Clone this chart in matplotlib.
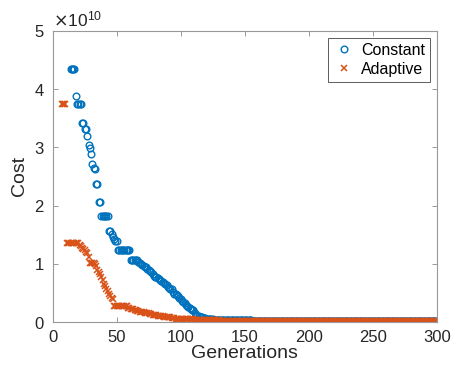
import numpy as np
import matplotlib
matplotlib.use('Agg')
import matplotlib.pyplot as plt
from matplotlib.ticker import ScalarFormatter

plt.rcParams['font.family'] = ['Liberation Sans', 'DejaVu Sans']

# cost per generation in units of 1e10, stored as (level, run length)
# earlier generations are above the y-limit and not shown
const_start = 14
const_levels = [4.35, 3.88, 3.75, 3.42, 3.32, 3.19, 3.04, 2.98, 2.88, 2.72, 2.64, 2.62,
                2.37, 2.06, 1.82, 1.57, 1.52, 1.46, 1.42, 1.39, 1.23, 1.06,
                1.03, 1.02, 1.00, 0.98, 0.96, 0.95, 0.94, 0.92, 0.89, 0.87, 0.86, 0.83,
                0.80, 0.78, 0.77, 0.75, 0.74, 0.72, 0.71, 0.69, 0.67, 0.65, 0.63, 0.61,
                0.59, 0.57, 0.56, 0.52, 0.49, 0.48, 0.46, 0.44, 0.41, 0.39, 0.36, 0.34,
                0.32, 0.30, 0.28, 0.26, 0.25, 0.23, 0.21, 0.20, 0.16, 0.13, 0.11, 0.10,
                0.09, 0.08, 0.07, 0.06, 0.05, 0.04, 0.025]
const_runs = [4, 1, 4, 2, 2, 1, 1, 1, 1, 1, 1, 1,
              2, 2, 6, 2, 1, 1, 1, 2, 10, 6,
              1, 1, 1, 1, 1, 1, 1, 1, 1, 1, 1, 1,
              1, 1, 1, 1, 1, 1, 1, 1, 1, 1, 1, 1,
              1, 1, 1, 1, 1, 1, 1, 1, 1, 1, 1, 1,
              1, 1, 1, 1, 1, 1, 1, 1, 1, 1, 1, 1,
              1, 2, 2, 1, 5, 30, 145]

adapt_start = 7
adapt_levels = [3.75, 1.35, 1.33, 1.31, 1.28, 1.25, 1.23, 1.20, 1.18, 1.12, 1.02,
                0.99, 0.96, 0.90, 0.86, 0.82, 0.77, 0.72, 0.65, 0.62, 0.57, 0.53,
                0.49, 0.45, 0.41, 0.40, 0.27, 0.25, 0.24, 0.23, 0.22, 0.21, 0.20,
                0.19, 0.18, 0.17, 0.16, 0.15, 0.14, 0.13, 0.12, 0.11, 0.10, 0.09,
                0.08, 0.07, 0.06, 0.05, 0.04, 0.03, 0.02]
adapt_runs = [4, 10, 1, 1, 1, 1, 1, 1, 1, 1, 4,
              1, 1, 1, 1, 1, 1, 1, 1, 1, 1, 1,
              1, 1, 1, 1, 11, 1, 1, 1, 2, 1, 1,
              2, 2, 2, 2, 2, 2, 2, 2, 2, 3, 3,
              3, 3, 5, 10, 10, 10, 170]

const_cost = np.repeat(const_levels, const_runs) * 1e10
const_gen = np.arange(const_start, const_start + len(const_cost))
adapt_cost = np.repeat(adapt_levels, adapt_runs) * 1e10
adapt_gen = np.arange(adapt_start, adapt_start + len(adapt_cost))

blue = '#0072BD'
orange = '#D95319'
axcol = '#999999'
txtcol = '#262626'

fig = plt.figure(figsize=(4.54, 3.75), dpi=100)
ax = fig.add_axes([0.116, 0.141, 0.846, 0.777])

ax.plot(const_gen, const_cost, 'o', ls='none', mfc='none', mec=blue,
        ms=4.8, mew=1.0, label='Constant')
ax.plot(adapt_gen, adapt_cost, 'x', ls='none', color=orange,
        ms=4.2, mew=1.1, label='Adaptive')

ax.set_xlim(0, 300)
ax.set_ylim(0, 5e10)
ax.set_xticks([0, 50, 100, 150, 200, 250, 300])
ax.set_yticks([0, 1e10, 2e10, 3e10, 4e10, 5e10])

fmt = ScalarFormatter(useMathText=True)
fmt.set_powerlimits((0, 0))
ax.yaxis.set_major_formatter(fmt)
ax.yaxis.get_offset_text().set_fontsize(12.5)
ax.yaxis.get_offset_text().set_color(txtcol)

for s in ax.spines.values():
    s.set_color(axcol)
    s.set_linewidth(0.8)
ax.tick_params(direction='in', length=3.5, width=0.7, color=axcol,
               labelsize=12, labelcolor=txtcol, top=True, right=True, pad=6)

ax.set_xlabel('Generations', fontsize=14, color=txtcol, labelpad=0)
ax.set_ylabel('Cost', fontsize=14, color=txtcol, labelpad=4)

leg = ax.legend(loc='upper right', fontsize=11.5, frameon=True, fancybox=False,
                handlelength=1.35, handletextpad=0.4, borderpad=0.3,
                labelspacing=0.25, borderaxespad=0.45)
leg.get_frame().set_edgecolor('#333333')
leg.get_frame().set_linewidth(0.7)
for t in leg.get_texts():
    t.set_color('black')

fig.savefig('out.png', dpi=100)
